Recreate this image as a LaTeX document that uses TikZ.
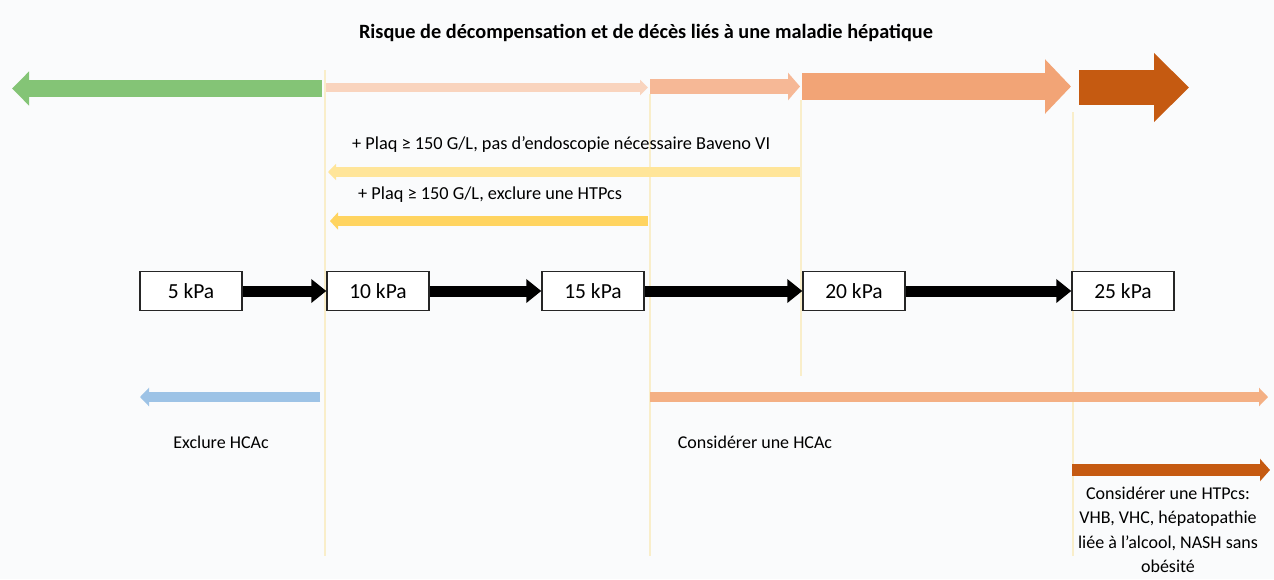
\documentclass[tikz,border=0pt]{standalone}
\usepackage{fontspec}
\setmainfont{Carlito}
\usetikzlibrary{arrows.meta,positioning}

\definecolor{bgcol}{RGB}{250,251,252}
\definecolor{guidecol}{RGB}{249,238,202}
\definecolor{riskgreen}{RGB}{132,196,118}
\definecolor{riskpale}{RGB}{249,212,190}
\definecolor{risklight}{RGB}{246,184,150}
\definecolor{riskmid}{RGB}{242,164,118}
\definecolor{riskdark}{RGB}{197,90,17}
\definecolor{plaqpale}{RGB}{255,229,153}
\definecolor{plaqgold}{RGB}{255,212,96}
\definecolor{hcablue}{RGB}{157,195,230}
\definecolor{hcaorange}{RGB}{244,176,132}

\begin{document}
\begin{tikzpicture}[x=1pt,y=-1pt,
            kpa box/.style={draw=black!85,line width=1.4pt,fill=white,minimum width=102pt,
                minimum height=39pt,inner sep=0pt,font=\fontsize{21.5}{24}\selectfont},
            step arrow/.style={line width=11pt,-{Triangle[length=15pt,width=23pt]}},
            note/.style={inner sep=0pt,font=\fontsize{18}{24.5}\selectfont},
            guide/.style={draw=guidecol,line width=1.2pt}]

        \fill[bgcol] (0,0) rectangle (1274,579);
        \useasboundingbox (0,0) rectangle (1274,579);

        % Define guide lines
        \draw[guide] (325,70) -- (325,556);
        \draw[guide] (650,94) -- (650,556);
        \draw[guide] (801,100) -- (801,376);
        \draw[guide] (1073,112) -- (1073,556);

        % Define title and risk band
        \node[font=\fontsize{20.3}{24}\selectfont\bfseries] (title) at (646,33)
            {Risque de décompensation et de décès liés à une maladie hépatique};
        \coordinate (g1) at (322,88.5);   \coordinate (g0) at (12,88.5);
        \coordinate (p1) at (326,87.5);   \coordinate (p2) at (648,87.5);
        \coordinate (l1) at (650,86.5);   \coordinate (l2) at (800,86.5);
        \coordinate (m1) at (802,86.5);   \coordinate (m2) at (1071,86.5);
        \coordinate (d1) at (1079,87.5);  \coordinate (d2) at (1189,87.5);
        \draw[riskgreen,line width=17pt,-{Triangle[length=17pt,width=33pt]}] (g1) -- (g0);
        \draw[riskpale,line width=9pt,-{Triangle[length=8pt,width=15pt]}] (p1) -- (p2);
        \draw[risklight,line width=15pt,-{Triangle[length=12pt,width=27pt]}] (l1) -- (l2);
        \draw[riskmid,line width=27pt,-{Triangle[length=26pt,width=53pt]}] (m1) -- (m2);
        \draw[riskdark,line width=35pt,-{Triangle[length=35pt,width=67pt]}] (d1) -- (d2);

        % Define platelet notes
        \node[note,anchor=west,font=\fontsize{18.3}{22}\selectfont] (plaq20) at (352,145)
            {+ Plaq ≥ 150 G/L, pas d’endoscopie nécessaire Baveno VI};
        \node[note,anchor=west,font=\fontsize{18.3}{22}\selectfont] (plaq15) at (358,195)
            {+ Plaq ≥ 150 G/L, exclure une HTPcs};
        \coordinate (y20) at (800,172);  \coordinate (y10) at (328,172);
        \coordinate (o15) at (648,221);  \coordinate (o10) at (330,221);
        \draw[plaqpale,line width=10pt,-{Triangle[length=8pt,width=16pt]}] (y20) -- (y10);
        \draw[plaqgold,line width=10pt,-{Triangle[length=8pt,width=17pt]}] (o15) -- (o10);

        % Define vertices
        \node[kpa box] (k5) at (191,291) {5 kPa};
        \node[kpa box] (k10) at (378,291) {10 kPa};
        \node[kpa box] (k15) at (593,291) {15 kPa};
        \node[kpa box] (k20) at (854,291) {20 kPa};
        \node[kpa box] (k25) at (1123,291) {25 kPa};

        % Draw edges
        \path[step arrow]
            (k5) edge (k10)
            (k10) edge (k15)
            (k15) edge (k20)
            (k20) edge (k25);

        % Define HCAc arrows
        \coordinate (b1) at (320,397);   \coordinate (b0) at (140,397);
        \coordinate (h1) at (650,397);   \coordinate (h2) at (1268,397);
        \coordinate (t1) at (1072,470);  \coordinate (t2) at (1270,470);
        \draw[hcablue,line width=10pt,-{Triangle[length=9pt,width=18pt]}] (b1) -- (b0);
        \draw[hcaorange,line width=10pt,-{Triangle[length=9pt,width=18pt]}] (h1) -- (h2);
        \draw[riskdark,line width=12pt,-{Triangle[length=10pt,width=22pt]}] (t1) -- (t2);
        \node[note] (exclude) at (221,442) {Exclure HCAc};
        \node[note] (consider) at (755,442) {Considérer une HCAc};
        \node[note,align=center] (htpcs) at (1168,530)
            {Considérer une HTPcs:\\VHB, VHC, hépatopathie\\liée à l’alcool, NASH sans\\obésité};

        \end{tikzpicture}
\end{document}
